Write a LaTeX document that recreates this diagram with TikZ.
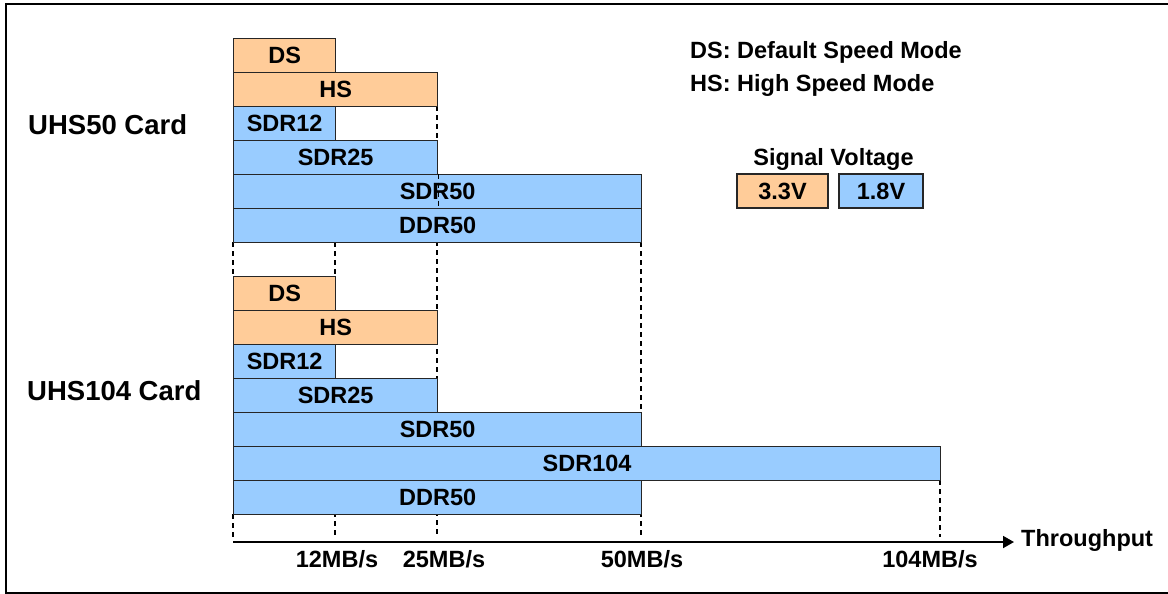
\documentclass[tikz,border=0pt]{standalone}
\usepackage{fontspec}
\setmainfont{Liberation Sans}
\usetikzlibrary{arrows.meta}
\definecolor{orng}{HTML}{FFCC99}
\definecolor{blu}{HTML}{99CCFF}
\newcommand\lblfont{\fontsize{23.5}{28}\selectfont\bfseries}
\newcommand\cardfont{\fontsize{27.5}{32}\selectfont\bfseries}
\begin{document}
\begin{tikzpicture}[x=1pt,y=-1pt,
  bar/.style={draw=black!85, line width=1.3pt, inner sep=0pt, font=\lblfont,
    minimum height=33.93pt, anchor=north west},
  ob/.style={bar, fill=orng},
  bb/.style={bar, fill=blu},
  vbox/.style={draw=black!85, line width=1.3pt, inner sep=0pt, font=\lblfont, minimum height=34pt},
  guide/.style={draw=black, line width=1.4pt, dash pattern=on 5pt off 4pt},
  txt/.style={inner sep=0pt, font=\lblfont, anchor=base},
  cardlbl/.style={inner sep=0pt, font=\cardfont, anchor=base west},
  axis/.style={draw=black, line width=1.8pt, -{Triangle[length=11pt,width=12pt]}}
]
\useasboundingbox (0,0) rectangle (1168,594);
\fill[white] (0,0) rectangle (1168,594);
\draw[line width=2pt] (6,4) rectangle (1175,592.5);

% axis coordinates
\coordinate (t0) at (233,537);
\coordinate (t12) at (335,537);
\coordinate (t25) at (437,537);
\coordinate (t50) at (641,537);
\coordinate (t104) at (940,537);
\coordinate (a0) at (233,542);

% dashed guides (behind bars)
\draw[guide] (233,242) -- (233,276);
\draw[guide] (233,514) -- (t0);
\draw[guide] (335,242) -- (t12);
\draw[guide] (437,106) -- (t25);
\draw[guide] (641,242) -- (t50);
\draw[guide] (940,480) -- (t104);

% UHS50 group
\node[ob, minimum width=102pt] (ds1) at (233,38) {DS};
\node[ob, minimum width=204pt] (hs1) at (233,71.93) {HS};
\node[bb, minimum width=102pt] (sdr12a) at (233,105.86) {SDR12};
\node[bb, minimum width=204pt] (sdr25a) at (233,139.79) {SDR25};
\node[bb, minimum width=408pt] (sdr50a) at (233,173.72) {SDR50};
\node[bb, minimum width=408pt] (ddr50a) at (233,207.65) {DDR50};
\draw[guide] (sdr50a.north -| hs1.east) -- ++(0,32);

% UHS104 group
\node[ob, minimum width=102pt] (ds2) at (233,276) {DS};
\node[ob, minimum width=204pt] (hs2) at (233,309.93) {HS};
\node[bb, minimum width=102pt] (sdr12b) at (233,343.86) {SDR12};
\node[bb, minimum width=204pt] (sdr25b) at (233,377.79) {SDR25};
\node[bb, minimum width=408pt] (sdr50b) at (233,411.72) {SDR50};
\node[bb, minimum width=707pt] (sdr104b) at (233,445.65) {SDR104};
\node[bb, minimum width=408pt] (ddr50b) at (233,479.58) {DDR50};

% card labels
\node[cardlbl] (c50) at (28,135) {UHS50 Card};
\node[cardlbl] (c104) at (27,400.5) {UHS104 Card};

% legend
\node[txt, anchor=base west] (lg1) at (690,58.3) {DS: Default Speed Mode};
\node[txt, anchor=base west] (lg2) at (690,91.7) {HS: High Speed Mode};
\node[txt] (sv) at (833.5,165) {Signal Voltage};
\node[vbox, fill=orng, minimum width=91pt] (v33) at (782.5,191) {3.3V};
\node[vbox, fill=blu, minimum width=84pt] (v18) at (881,191) {1.8V};

% axis
\node[inner sep=0pt, font=\lblfont, anchor=west] (thr) at (1021,540) {Throughput};
\draw[axis] (a0) -- (1014,542);
\node[txt] (l12) at (337,567) {12MB/s};
\node[txt] (l25) at (444,567) {25MB/s};
\node[txt] (l50) at (642,567) {50MB/s};
\node[txt] (l104) at (930,567) {104MB/s};
\end{tikzpicture}
\end{document}
